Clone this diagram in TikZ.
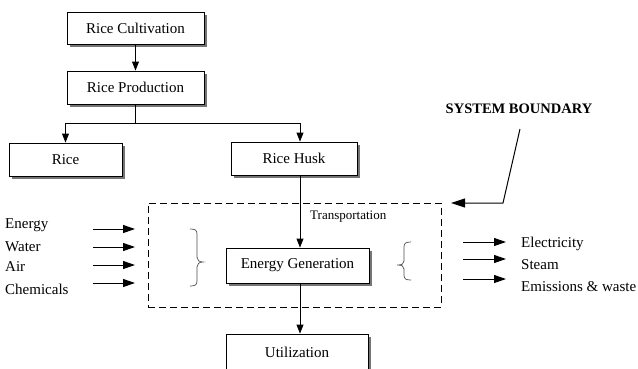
\documentclass[tikz,border=0pt]{standalone}
\usepackage{fontspec}
\setmainfont{Liberation Serif}
\usetikzlibrary{arrows.meta,shadows,calc}
\begin{document}
\begin{tikzpicture}[x=1pt,y=-1pt,
  box/.style={draw, line width=0.9pt, fill=white, rectangle, inner sep=0pt,
    font=\fontsize{15}{18}\selectfont,
    drop shadow={shadow xshift=3pt, shadow yshift=-3pt, fill=black!60, opacity=0.9}},
  arr/.style={line width=0.9pt, -{Triangle[length=9pt,width=7pt]}},
  sidearr/.style={line width=1pt, -{Triangle[length=12pt,width=8pt]}},
  bigarr/.style={line width=1pt, -{Triangle[length=14pt,width=9pt]}},
  lbl/.style={anchor=west, inner sep=0pt, font=\fontsize{15}{18}\selectfont},
  brc/.style={line width=0.7pt, draw=black!70}
]
\useasboundingbox (0,0) rectangle (638,368);

% boxes
\node[box, minimum width=137pt, minimum height=32pt] (cult) at (135.5,28) {Rice Cultivation};
\node[box, minimum width=137pt, minimum height=33pt] (prod) at (135.5,87.5) {Rice Production};
\node[box, minimum width=113pt, minimum height=33pt] (rice) at (65.5,159.5) {Rice};
\node[box, minimum width=126pt, minimum height=33pt] (husk) at (294,158.5) {Rice Husk};

% system boundary
\node[draw, dash pattern=on 7pt off 4pt, line width=0.8pt, rectangle,
  minimum width=293pt, minimum height=104pt, inner sep=0pt] (bound) at (294.5,255) {};

\node[box, minimum width=143pt, minimum height=35pt] (eg) at (297.5,265.5) {Energy Generation};
\node[box, minimum width=142pt, minimum height=36pt] (util) at (297,352) {Utilization};

% main connectors
\draw[arr] (cult.south) -- (prod.north);
\draw[arr] (prod.south) -- ++(0,19) -| (rice.north);
\draw[arr] (prod.south) -- ++(0,19) -| ([xshift=6pt]husk.north);
\draw[arr] ([xshift=6pt]husk.south) -- ([xshift=6pt]husk.south |- eg.north);
\draw[arr] ([xshift=2.5pt]eg.south) -- ([xshift=2.5pt]eg.south |- util.north);

\node[anchor=west, inner sep=0pt, font=\fontsize{13}{15}\selectfont] (transp) at (310,217) {Transportation};

% system boundary label
\node[inner sep=0pt, font=\bfseries\fontsize{14.5}{17}\selectfont] (sblabel) at (519,109) {SYSTEM BOUNDARY};
\coordinate (sbA) at (520,129);
\coordinate (sbB) at (503,203);
\coordinate (sbC) at (451,203);
\draw[bigarr] (sbA) -- (sbB) -- (sbC);

% inputs
\node[lbl] (inE) at (5,225) {Energy};
\node[lbl] (inW) at (5,247) {Water};
\node[lbl] (inA) at (5,267) {Air};
\node[lbl] (inC) at (5,289) {Chemicals};
\foreach \n/\y in {1/229,2/247,3/265,4/283}{
  \coordinate (ia\n) at (93,\y);
  \coordinate (ib\n) at (135,\y);
  \draw[sidearr] (ia\n) -- (ib\n);
}
% left brace  }
\coordinate (lbA) at (190,229);
\coordinate (lbB) at (190,286);
\draw[brc] (lbA) .. controls (195,229) and (197,230) .. (197,234)
  -- (197,257) .. controls (197,260) and (199,262) .. (203,262)
  .. controls (199,262) and (197,264) .. (197,267)
  -- (197,281) .. controls (197,285) and (195,286) .. (lbB);

% right brace  {
\coordinate (rbA) at (411,242);
\coordinate (rbB) at (411,280);
\draw[brc] (rbA) .. controls (406,242) and (404,243) .. (404,247)
  -- (404,261) .. controls (404,264) and (402,265) .. (397,265)
  .. controls (402,265) and (404,266) .. (404,269)
  -- (404,275) .. controls (404,279) and (406,280) .. (rbB);

% outputs
\foreach \n/\y in {1/242,2/259,3/279}{
  \coordinate (oa\n) at (463,\y);
  \coordinate (ob\n) at (506,\y);
  \draw[sidearr] (oa\n) -- (ob\n);
}
\node[lbl] (outE) at (521,244) {Electricity};
\node[lbl] (outS) at (521,265) {Steam};
\node[lbl] (outW) at (521,287) {Emissions \& waste};
\end{tikzpicture}
\end{document}
